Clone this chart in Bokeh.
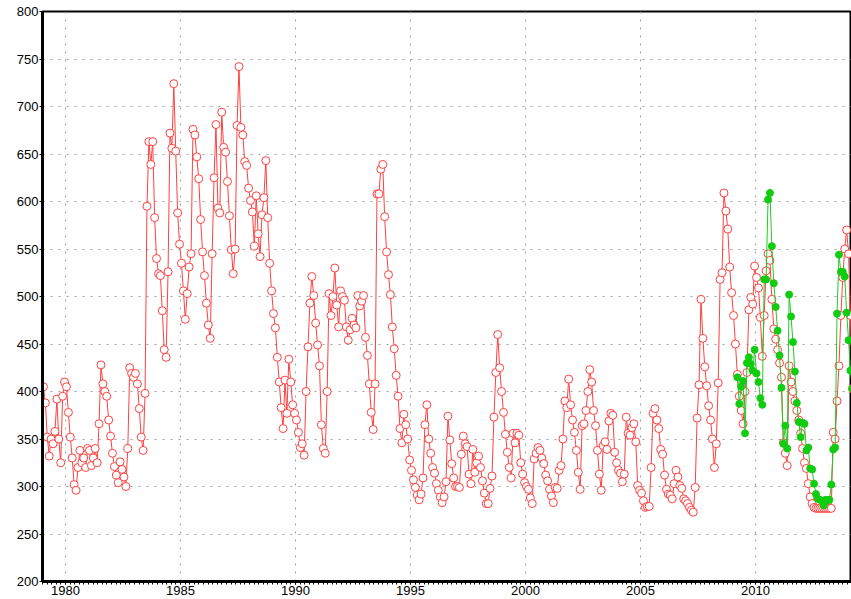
from bokeh.plotting import figure
from bokeh.models import Range1d, SingleIntervalTicker
from bokeh.embed import file_html
from bokeh.resources import INLINE

# Red series: monthly values starting January 1979
red_start = 1979
red_1979_1988 = [
    405, 388, 352, 332, 350, 345, 358, 392, 350, 325, 395, 410,
    405, 378, 352, 330, 302, 296, 320, 338, 325, 330, 320, 340,
    338, 322, 330, 340, 325, 366, 428, 408, 400, 395, 370, 353,
    335, 321, 312, 304, 326, 318, 310, 300, 340, 425, 419, 415,
    419, 408, 382, 352, 338, 398, 595, 663, 639, 663, 583, 540,
    524, 522, 485, 444, 436, 526, 672, 656, 724, 653, 588, 555,
    535, 506, 476, 503, 531, 545, 676, 670, 647, 624, 581, 547,
    522, 493, 470, 456, 545, 625, 681, 593, 588, 694, 657, 652,
    621, 585, 549, 524, 550, 680, 742, 678, 670, 642, 638, 614,
    601, 589, 553, 606, 566, 542, 586, 604, 643, 583, 535, 506,
]
red_1989_1998 = [
    482, 467, 436, 410, 383, 361, 412, 377, 434, 410, 386, 377,
    370, 357, 341, 345, 333, 400, 447, 493, 521, 501, 472, 449,
    427, 365, 340, 335, 400, 503, 480, 500, 530, 491, 468, 506,
    500, 496, 468, 454, 465, 477, 470, 467, 501, 490, 495, 501,
    457, 438, 408, 378, 360, 408, 608, 608, 634, 639, 584, 547,
    523, 502, 468, 445, 417, 395, 361, 346, 376, 365, 350, 328,
    317, 307, 299, 291, 286, 292, 309, 365, 386, 350, 335, 320,
    314, 303, 296, 289, 283, 289, 305, 374, 349, 324, 309, 300,
    300, 299, 334, 353, 345, 342, 313, 303, 339, 315, 325, 332,
    320, 306, 293, 282, 282, 298, 311, 373, 420, 460, 425, 400,
]
red_1999_2008 = [
    378, 355, 336, 320, 309, 356, 346, 356, 354, 325, 313, 304,
    300, 297, 288, 282, 329, 335, 341, 338, 330, 324, 312, 306,
    297, 290, 283, 299, 298, 317, 322, 350, 390, 383, 413, 386,
    370, 357, 338, 315, 297, 364, 366, 380, 400, 423, 410, 380,
    364, 338, 313, 296, 343, 347, 339, 369, 377, 375, 336, 325,
    317, 314, 305, 313, 373, 356, 354, 362, 366, 347, 301, 296,
    293, 285, 278, 279, 279, 320, 377, 382, 370, 361, 339, 334,
    312, 297, 292, 291, 287, 303, 317, 310, 301, 298, 287, 285,
    282, 278, 275, 273, 299, 372, 407, 497, 456, 426, 406, 385,
    370, 350, 320, 345, 409, 518, 525, 609, 590, 571, 531, 504,
]
red_2009_2014 = [
    480, 450, 418, 395, 380, 366, 400, 420, 486, 499, 492, 532,
    520, 509, 478, 437, 480, 527, 545, 538, 497, 466, 455, 444,
    430, 415, 346, 335, 322, 427, 410, 400, 390, 380, 370, 356,
    340, 325, 319, 303, 289, 282, 278, 277, 277, 277, 277, 277,
    277, 277, 277, 277, 357, 350, 390, 427, 480, 520, 550, 570,
    545, 480, 403,
]

# Green series: monthly values starting March 2009
green_start_year = 2009
green_start_month = 3
green_2009 = [415, 387, 405, 411, 356, 430, 436, 429, 422, 444]
green_2010 = [419, 410, 393, 386, 518, 518, 602, 609, 553, 514, 489, 464]
green_2011 = [438, 404, 345, 364, 340, 502, 479, 452, 421, 388, 368, 352]
green_2012 = [367, 366, 338, 341, 319, 318, 303, 292, 287, 286, 285, 280]
green_2013 = [286, 285, 286, 302, 339, 341, 482, 544, 526, 526, 521, 483]
green_2014 = [454, 422, 403]

x_ticks_interval = 5
y_ticks_interval = 50

red_vals = red_1979_1988 + red_1989_1998 + red_1999_2008 + red_2009_2014
red_x = [red_start + (i + 0.5) / 12 for i in range(len(red_vals))]
green_vals = green_2009 + green_2010 + green_2011 + green_2012 + green_2013 + green_2014
green_x = [green_start_year + (green_start_month - 1 + i + 0.5) / 12 for i in range(len(green_vals))]

p = figure(width=851, height=599, output_backend="svg", toolbar_location=None,
           x_range=Range1d(1979.0, 2014.17), y_range=Range1d(200, 800),
           min_border_left=42, min_border_right=0, min_border_top=11, min_border_bottom=18)

p.background_fill_color = "white"
p.border_fill_color = "white"
p.outline_line_color = "black"
p.outline_line_width = 2

p.xaxis.ticker = SingleIntervalTicker(interval=x_ticks_interval, num_minor_ticks=25)
p.yaxis.ticker = SingleIntervalTicker(interval=y_ticks_interval, num_minor_ticks=0)

for ax in (p.xaxis, p.yaxis):
    ax.axis_line_width = 3
    ax.axis_line_color = "black"
    ax.major_tick_out = 3
    ax.major_tick_in = 0
    ax.major_tick_line_color = "black"
    ax.major_label_text_font = "Liberation Sans"
    ax.major_label_text_font_size = "13px"
    ax.major_label_text_color = "black"
    ax.major_label_standoff = 1
p.xaxis.minor_tick_out = 3
p.xaxis.minor_tick_in = 0
p.xaxis.minor_tick_line_color = "black"
p.yaxis.minor_tick_line_color = None

p.xgrid.grid_line_color = "#a0a0a0"
p.ygrid.grid_line_color = "#a0a0a0"
p.xgrid.grid_line_dash = "2 6"
p.ygrid.grid_line_dash = "2 6"
p.xgrid.grid_line_width = 1
p.ygrid.grid_line_width = 1

p.line(red_x, red_vals, line_color="#ff4040", line_width=1)
p.scatter(red_x, red_vals, marker="circle", size=8, fill_color="white",
          line_color="#ff4040", line_width=1)

p.line(green_x, green_vals, line_color="#22cc22", line_width=1)
p.scatter(green_x, green_vals, marker="circle", size=7, fill_color="#11cc11",
          line_color="#11cc11", line_width=1)

open("out.html", "w").write(file_html(p, INLINE))
